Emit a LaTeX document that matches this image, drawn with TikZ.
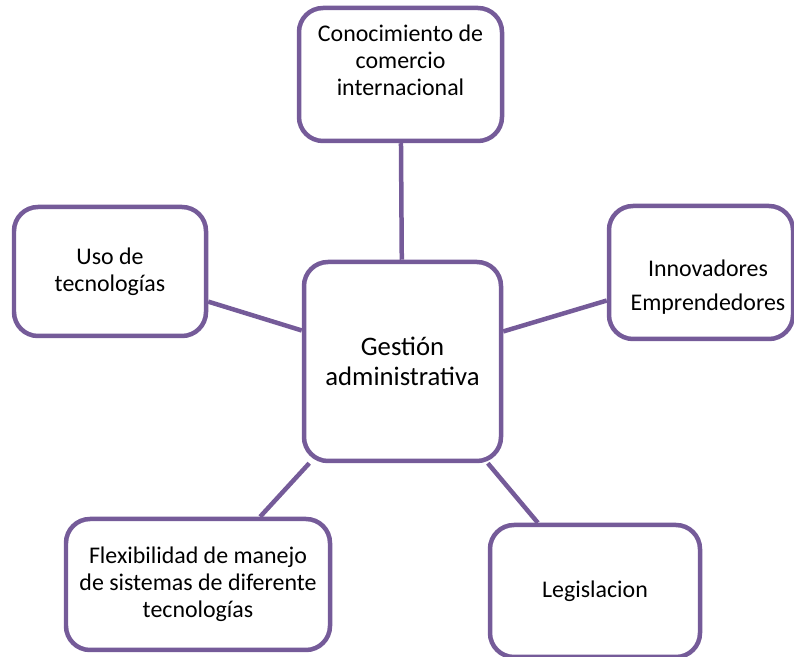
\documentclass[tikz,border=0pt]{standalone}
\usepackage{fontspec}
\setmainfont{Carlito}
\usepackage{xcolor}
\definecolor{moradoborde}{RGB}{117,91,153}

\begin{document}
\begin{tikzpicture}[
    caja/.style={draw=moradoborde, line width=3.2pt, rounded corners=0.6cm, fill=white,
                 align=center, inner sep=0pt, font=\fontsize{17}{19.2}\selectfont},
    enlace/.style={draw=moradoborde, line width=3.2pt}
]
    \useasboundingbox (0,0) rectangle (19.85,16.425);

    \node[caja, minimum width=4.925cm, minimum height=4.975cm,
          font=\fontsize{19}{21.6}\selectfont] (gestion) at (10.0625,7.3875) {Gestión\\administrativa};

    \node[caja] (comercio) at (10.0125,14.5625)
        {\parbox[c][3.325cm][t]{5.075cm}{\centering\vspace*{0.42cm}Conocimiento de\\comercio\\internacional}};
    \node[caja, minimum width=4.8cm, minimum height=3.225cm] (uso) at (2.75,9.6375) {Uso de\\tecnologías};
    \node[caja, font=\fontsize{17}{24.2}\selectfont] (innov) at (17.525,9.6125)
        {\parbox[c][3.325cm][c]{4.6cm}{\centering\leftskip=0.35cm plus 1fil\vspace*{0.725cm}Innovadores\\Emprendedores}};
    \node[caja, minimum width=6.6cm, minimum height=3.275cm] (flex) at (4.95,1.8125)
        {Flexibilidad de manejo\\de sistemas de diferente\\tecnologías};
    \node[caja, minimum width=5.25cm, minimum height=3.3cm] (legis) at (14.875,1.65) {Legislacion};

    \draw[enlace] (gestion) -- (comercio);
    \draw[enlace] (gestion) -- (uso);
    \draw[enlace] (gestion) -- (innov);
    \draw[enlace] (gestion) -- (flex);
    \draw[enlace] (gestion) -- (legis);
\end{tikzpicture}
\end{document}
